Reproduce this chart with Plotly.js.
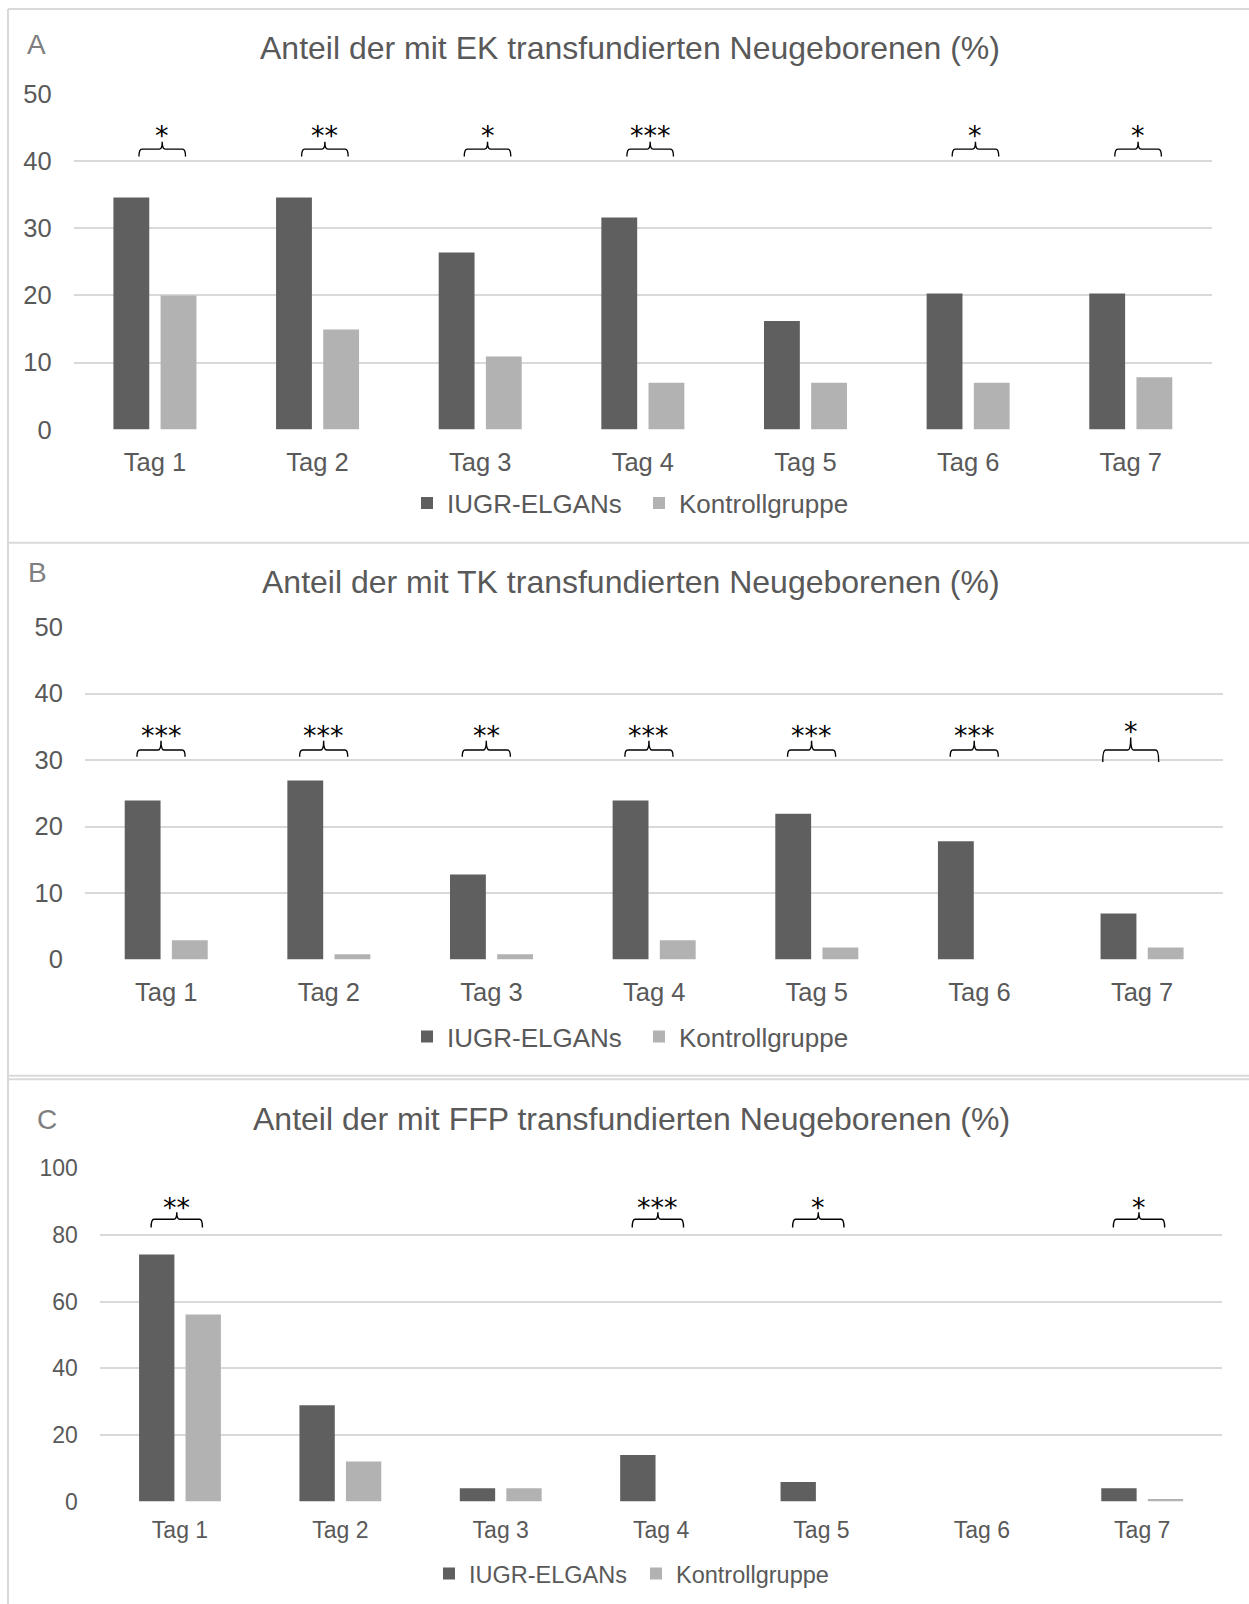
<!DOCTYPE html>
<html>
<head>
<meta charset="utf-8">
<script src="https://cdn.plot.ly/plotly-3.0.1.min.js"></script>
<style>
  html, body { margin: 0; padding: 0; background: #ffffff; }
  #chart { width: 1249px; height: 1604px; }
</style>
</head>
<body>
<div id="chart"></div>
<script>
// ---------------- data ----------------
const days = ['Tag 1', 'Tag 2', 'Tag 3', 'Tag 4', 'Tag 5', 'Tag 6', 'Tag 7'];
const seriesNames = ['IUGR-ELGANs', 'Kontrollgruppe'];

const ekIUGR       = [34.6, 34.6, 26.4, 31.6, 16.2, 20.3, 20.3];
const ekKontrolle  = [20.0, 14.9, 10.9, 7.0, 7.0, 7.0, 7.8];
const tkIUGR       = [23.9, 26.9, 12.8, 23.9, 21.9, 17.8, 6.9];
const tkKontrolle  = [2.9, 0.8, 0.8, 2.9, 1.8, 0, 1.8];
const ffpIUGR      = [74.1, 28.9, 4.0, 14.0, 5.9, 0, 4.0];
const ffpKontrolle = [56.1, 12.0, 4.0, 0, 0, 0, 0.8];

const ekSig  = ['*', '**', '*', '***', '', '*', '*'];
const tkSig  = ['***', '***', '**', '***', '***', '***', '*'];
const ffpSig = ['**', '', '', '***', '*', '', '*'];

const titles = [
  'Anteil der mit EK transfundierten Neugeborenen (%)',
  'Anteil der mit TK transfundierten Neugeborenen (%)',
  'Anteil der mit FFP transfundierten Neugeborenen (%)'
];
const panelLetters = ['A', 'B', 'C'];

// ---------------- layout helpers ----------------
const W = 1249, H = 1604;
const px = v => v / W;
const py = v => 1 - v / H;

const DARK = '#5f5f5f', LIGHT = '#b2b2b2', TXT = '#595959', GRID = '#d9d9d9';
const FONT = 'Liberation Sans, Arial, sans-serif';

const panels = [
  { iugr: ekIUGR, ctrl: ekKontrolle, sig: ekSig, yMax: 50, dtick: 10,
    x0: 73.6, x1: 1212.1, yTop: 94.1, yBot: 429.6, tick: 25.5, legFont: 26,
    legX: 407, legY: 503, legEntry: 187, titleY: 47.4, letter: [36.5, 44.6],
    brace: { yLine: 41.8, yEnd: 40.7, yTip: 42.9, yStar: 44.5, dx: 0.045, half: 0.143 } },
  { iugr: tkIUGR, ctrl: tkKontrolle, sig: tkSig, yMax: 50, dtick: 10,
    x0: 84.9, x1: 1223.4, yTop: 627.0, yBot: 959.5, tick: 25.5, legFont: 26,
    legX: 407, legY: 1036.6, legEntry: 187, titleY: 581.8, letter: [37.5, 572],
    brace: { yLine: 31.5, yEnd: 30.5, yTip: 32.9, yStar: 34.4, dx: -0.032, half: 0.148 },
    braceLast: { yLine: 31.5, yEnd: 29.7, yTip: 33.4, yStar: 35.0, dx: -0.07, half: 0.172 } },
  { iugr: ffpIUGR, ctrl: ffpKontrolle, sig: ffpSig, yMax: 100, dtick: 20,
    x0: 99.8, x1: 1222.4, yTop: 1168.2, yBot: 1501.6, tick: 23, legFont: 23.5,
    legX: 429, legY: 1573.8, legEntry: 162, titleY: 1119.2, letter: [47.4, 1119],
    brace: { yLine: 84.7, yEnd: 82.2, yTip: 86.8, yStar: 89.6, dx: -0.02, half: 0.16 } }
];

const traces = [];
const shapes = [];
const annotations = [];
const layout = {
  width: W, height: H,
  margin: { l: 0, r: 0, t: 0, b: 0 },
  paper_bgcolor: '#ffffff', plot_bgcolor: '#ffffff',
  barmode: 'group', bargap: 0.42, bargroupgap: 0.24,
  font: { family: FONT, color: TXT },
  showlegend: true
};

panels.forEach((p, i) => {
  const n = i === 0 ? '' : String(i + 1);
  const xa = 'x' + n, ya = 'y' + n;
  const legName = 'legend' + n;

  traces.push({
    type: 'bar', x: days, y: p.iugr, name: seriesNames[0],
    xaxis: xa, yaxis: ya, legend: legName,
    marker: { color: DARK, line: { width: 0 } }, hoverinfo: 'x+y+name'
  });
  traces.push({
    type: 'bar', x: days, y: p.ctrl, name: seriesNames[1],
    xaxis: xa, yaxis: ya, legend: legName,
    marker: { color: LIGHT, line: { width: 0 } }, hoverinfo: 'x+y+name'
  });

  layout['xaxis' + n] = {
    domain: [px(p.x0), px(p.x1)], anchor: ya,
    type: 'category', categoryorder: 'array', categoryarray: days,
    showgrid: false, zeroline: false, showline: false, ticks: '',
    ticklabelstandoff: i === 2 ? 12 : 15,
    tickfont: { family: FONT, size: p.tick, color: TXT },
    fixedrange: true
  };
  layout['yaxis' + n] = {
    domain: [py(p.yBot), py(p.yTop)], anchor: xa,
    range: [0, p.yMax], dtick: p.dtick, tick0: 0,
    showgrid: true, gridcolor: GRID, gridwidth: 2,
    zeroline: false, showline: false, ticks: '',
    ticklabelstandoff: 21,
    tickfont: { family: FONT, size: p.tick, color: TXT },
    fixedrange: true
  };
  layout[legName] = {
    orientation: 'h', x: px(p.legX), xanchor: 'left',
    y: py(p.legY), yanchor: 'middle',
    entrywidth: p.legEntry, itemwidth: 30,
    bgcolor: 'rgba(0,0,0,0)', borderwidth: 0,
    font: { family: FONT, size: p.legFont, color: TXT },
    traceorder: 'normal'
  };

  // panel title
  if (i === 0) {
    layout.title = {
      text: titles[0], x: px(630), xanchor: 'center', xref: 'paper',
      y: py(p.titleY), yanchor: 'middle', yref: 'paper',
      font: { family: FONT, size: 32, color: TXT }, pad: { t: 0, b: 0, l: 0, r: 0 }
    };
  } else {
    annotations.push({
      xref: 'paper', yref: 'paper', x: px(631), y: py(p.titleY),
      xanchor: 'center', yanchor: 'middle', showarrow: false,
      text: titles[i], font: { family: FONT, size: 32, color: TXT }
    });
  }
  // panel letter
  annotations.push({
    xref: 'paper', yref: 'paper', x: px(p.letter[0]), y: py(p.letter[1]),
    xanchor: 'center', yanchor: 'middle', showarrow: false,
    text: panelLetters[i], font: { family: FONT, size: 28, color: '#7f7f7f' }
  });

  // significance brackets and stars
  p.sig.forEach((s, k) => {
    if (!s) return;
    const b = (k === p.sig.length - 1 && p.braceLast) ? p.braceLast : p.brace;
    const c = k + b.dx, xl = c - b.half, xr = c + b.half, r = 0.018;
    const path =
      'M' + xl + ',' + b.yEnd +
      ' Q' + xl + ',' + b.yLine + ' ' + (xl + r) + ',' + b.yLine +
      ' L' + (c - r) + ',' + b.yLine +
      ' Q' + c + ',' + b.yLine + ' ' + c + ',' + b.yTip +
      ' Q' + c + ',' + b.yLine + ' ' + (c + r) + ',' + b.yLine +
      ' L' + (xr - r) + ',' + b.yLine +
      ' Q' + xr + ',' + b.yLine + ' ' + xr + ',' + b.yEnd;
    shapes.push({
      type: 'path', xref: xa, yref: ya, path: path,
      line: { color: '#000000', width: 1.4 }, layer: 'above'
    });
    annotations.push({
      xref: xa, yref: ya, x: c, y: b.yStar, yshift: -5,
      xanchor: 'center', yanchor: 'middle', showarrow: false,
      text: s, font: { family: 'DejaVu Sans, sans-serif', size: 27, color: '#000000' }
    });
  });
});

// panel frames
const frame = { color: GRID, width: 2 };
shapes.push({ type: 'line', xref: 'paper', yref: 'paper', x0: px(8), x1: px(8), y0: py(9), y1: 0, line: frame, layer: 'below' });
shapes.push({ type: 'line', xref: 'paper', yref: 'paper', x0: px(8), x1: 1, y0: py(9), y1: py(9), line: frame, layer: 'below' });
shapes.push({ type: 'line', xref: 'paper', yref: 'paper', x0: px(8), x1: 1, y0: py(542.7), y1: py(542.7), line: frame, layer: 'below' });
shapes.push({ type: 'line', xref: 'paper', yref: 'paper', x0: px(8), x1: 1, y0: py(1075.7), y1: py(1075.7), line: frame, layer: 'below' });
shapes.push({ type: 'line', xref: 'paper', yref: 'paper', x0: px(8), x1: 1, y0: py(1079.3), y1: py(1079.3), line: frame, layer: 'below' });

layout.shapes = shapes;
layout.annotations = annotations;

Plotly.newPlot('chart', traces, layout, { displayModeBar: false, staticPlot: true });
</script>
</body>
</html>
